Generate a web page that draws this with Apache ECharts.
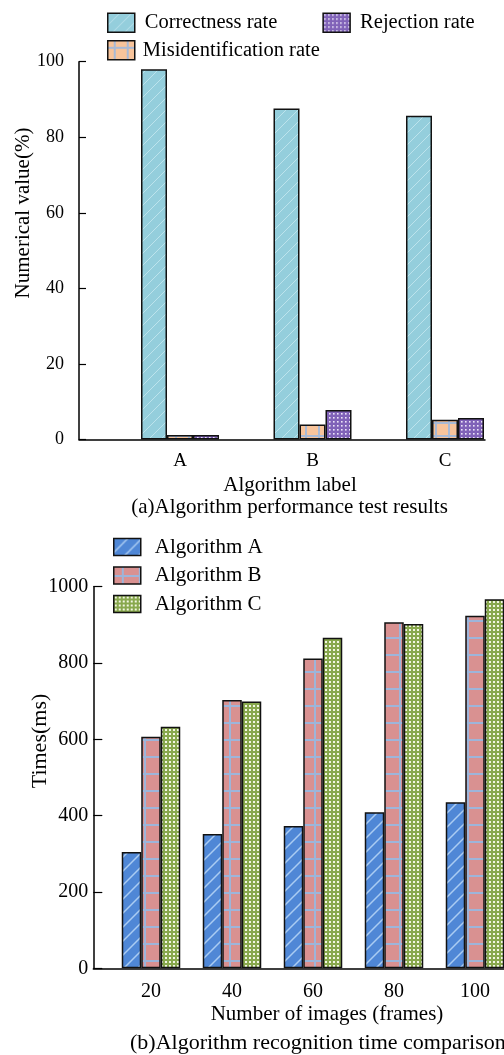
<!DOCTYPE html>
<html>
<head>
<meta charset="utf-8">
<script src="https://cdn.jsdelivr.net/npm/echarts@6/dist/echarts.min.js"></script>
<style>
html,body{margin:0;padding:0;background:#fff;}
#chart{width:504px;height:1055px;}
</style>
</head>
<body>
<div id="chart"></div>
<script>
// ---- data (top chart) ----
const topCategories = ['A', 'B', 'C'];
const correctnessRate = [98.0, 87.6, 85.7];
const misidentificationRate = [1.2, 4.0, 5.2];
const rejectionRate = [1.2, 7.8, 5.7];
const topYTicks = [0, 20, 40, 60, 80, 100];

// ---- data (bottom chart) ----
const frameCounts = [20, 40, 60, 80, 100];
const algorithmA = [305, 352, 373, 409, 435];
const algorithmB = [607, 703, 812, 907, 924];
const algorithmC = [633, 699, 866, 902, 967];
const bottomYTicks = [0, 200, 400, 600, 800, 1000];

const FONT = '"Liberation Serif", "Times New Roman", serif';

function pattern(w, h, bg, draw) {
  const c = document.createElement('canvas');
  c.width = w; c.height = h;
  const g = c.getContext('2d');
  g.fillStyle = bg; g.fillRect(0, 0, w, h);
  draw(g, w, h);
  return { image: c, repeat: 'repeat' };
}
function diag(color, lw) {
  return function (g, w, h) {
    g.strokeStyle = color; g.lineWidth = lw;
    g.beginPath();
    g.moveTo(-1, h + 1); g.lineTo(w + 1, -1);
    g.moveTo(-w - 1, h + 1); g.lineTo(1, -1);
    g.moveTo(w - 1, h + 1); g.lineTo(2 * w + 1, -1);
    g.stroke();
  };
}
function cross(color, lw) {
  return function (g, w, h) {
    g.fillStyle = color;
    g.fillRect(Math.round(w / 2 - lw / 2), 0, lw, h);
    g.fillRect(0, Math.round(h / 2 - lw / 2), w, lw);
  };
}
function dots(color, size) {
  return function (g, w, h) {
    g.fillStyle = color;
    g.fillRect(1, 1, size, size);
  };
}

const pCorrect = pattern(12, 12, '#94CEDC', diag('#BCE3EC', 1));
const pMis = pattern(13, 13, '#F8C49B', cross('#A8BAD6', 2));
const pRej = pattern(4, 4, '#8062B8', dots('#ECE4F8', 1.6));
const pA = pattern(14, 14, '#4F87D6', diag('#AACCF2', 1.5));
const pB = pattern(17, 17, '#D99191', cross('#9DB5DA', 2));
const pC = pattern(4, 4, '#88A84D', dots('#F2F6E2', 2));

const border = { borderColor: '#111', borderWidth: 1.5 };

function pairs(xs, ys) { return ys.map((v, i) => [xs[i], v]); }
const topX = topCategories.map((c, i) => i + 1);

const chart = echarts.init(document.getElementById('chart'), null, { renderer: 'canvas' });

const axisLine = { show: true, lineStyle: { color: '#000', width: 1.5 } };

const option = {
  animation: false,
  backgroundColor: '#fff',
  textStyle: { fontFamily: FONT, color: '#000' },
  grid: [
    { left: 79, right: 19, top: 61.7, bottom: 1055 - 439.5, containLabel: false },
    { left: 93.3, right: 0, top: 586.7, bottom: 1055 - 968.3, containLabel: false }
  ],
  legend: [
    {
      data: ['Correctness rate', 'Rejection rate'],
      left: 102, top: 6.7, orient: 'horizontal',
      itemWidth: 27, itemHeight: 19, itemGap: 45,
      icon: 'rect',
      itemStyle: border,
      textStyle: { fontFamily: FONT, fontSize: 20.5, color: '#000', lineHeight: 22, padding: [0, 0, 0, 5] }
    },
    {
      data: ['Misidentification rate'],
      left: 102, top: 34.3, orient: 'horizontal',
      itemWidth: 27, itemHeight: 19,
      icon: 'rect',
      itemStyle: border,
      textStyle: { fontFamily: FONT, fontSize: 20.5, color: '#000', lineHeight: 22, padding: [0, 0, 0, 3] }
    },
    {
      data: ['Algorithm A', 'Algorithm B', 'Algorithm C'],
      left: 108, top: 531.5, orient: 'vertical',
      itemWidth: 27, itemHeight: 17, itemGap: 7.5,
      icon: 'rect',
      itemStyle: border,
      textStyle: { fontFamily: FONT, fontSize: 21, color: '#000', lineHeight: 20, padding: [0, 0, 0, 9] }
    }
  ],
  xAxis: [
    {
      type: 'value', gridIndex: 0,
      min: 1 - (180 - 79) / 132.5, max: 3 + (485 - 445) / 132.5,
      axisLine: axisLine,
      axisTick: { show: false },
      splitLine: { show: false },
      axisLabel: {
        customValues: topX,
        formatter: v => topCategories[Math.round(v) - 1] || '',
        fontFamily: FONT, fontSize: 19, color: '#000', margin: 12
      }
    },
    {
      type: 'value', gridIndex: 1,
      min: 20 - (151 - 93.3) / 4.05, max: 20 + (504 - 151) / 4.05,
      axisLine: axisLine,
      axisTick: { show: false },
      splitLine: { show: false },
      axisLabel: {
        customValues: frameCounts,
        formatter: v => String(v),
        fontFamily: FONT, fontSize: 20, color: '#000', margin: 13
      }
    }
  ],
  yAxis: [
    {
      type: 'value', gridIndex: 0,
      min: topYTicks[0], max: topYTicks[topYTicks.length - 1], interval: 20,
      axisLine: axisLine,
      axisTick: { show: true, inside: true, length: 7, lineStyle: { color: '#000', width: 1.2 } },
      splitLine: { show: false },
      axisLabel: { fontFamily: FONT, fontSize: 18, color: '#000', margin: 15, formatter: v => String(v) }
    },
    {
      type: 'value', gridIndex: 1,
      min: bottomYTicks[0], max: bottomYTicks[bottomYTicks.length - 1], interval: 200,
      axisLine: axisLine,
      axisTick: { show: true, inside: true, length: 9, lineStyle: { color: '#000', width: 1.2 } },
      splitLine: { show: false },
      axisLabel: { fontFamily: FONT, fontSize: 20, color: '#000', margin: 5, formatter: v => String(v) }
    }
  ],
  series: [
    { name: 'Correctness rate', type: 'bar', xAxisIndex: 0, yAxisIndex: 0, barWidth: 26, barGap: '0%',
      data: pairs(topX, correctnessRate), itemStyle: Object.assign({ color: pCorrect }, border) },
    { name: 'Misidentification rate', type: 'bar', xAxisIndex: 0, yAxisIndex: 0, barWidth: 26, barGap: '0%',
      data: pairs(topX, misidentificationRate), itemStyle: Object.assign({ color: pMis }, border) },
    { name: 'Rejection rate', type: 'bar', xAxisIndex: 0, yAxisIndex: 0, barWidth: 26, barGap: '0%',
      data: pairs(topX, rejectionRate), itemStyle: Object.assign({ color: pRej }, border) },
    { name: 'Algorithm A', type: 'bar', xAxisIndex: 1, yAxisIndex: 1, barWidth: 19.5, barGap: '0%',
      data: pairs(frameCounts, algorithmA), itemStyle: Object.assign({ color: pA }, border) },
    { name: 'Algorithm B', type: 'bar', xAxisIndex: 1, yAxisIndex: 1, barWidth: 19.5, barGap: '0%',
      data: pairs(frameCounts, algorithmB), itemStyle: Object.assign({ color: pB }, border) },
    { name: 'Algorithm C', type: 'bar', xAxisIndex: 1, yAxisIndex: 1, barWidth: 19.5, barGap: '0%',
      data: pairs(frameCounts, algorithmC), itemStyle: Object.assign({ color: pC }, border) }
  ],
  graphic: [
    { type: 'text', x: 23, y: 213, rotation: Math.PI / 2,
      style: { text: 'Numerical value(%)', font: '21px ' + FONT, fill: '#000', align: 'center', verticalAlign: 'middle' } },
    { type: 'text', x: 290, y: 485,
      style: { text: 'Algorithm label', font: '21px ' + FONT, fill: '#000', align: 'center', verticalAlign: 'middle' } },
    { type: 'text', x: 289.5, y: 507,
      style: { text: '(a)Algorithm performance test results', font: '21px ' + FONT, fill: '#000', align: 'center', verticalAlign: 'middle' } },
    { type: 'text', x: 40, y: 741, rotation: Math.PI / 2,
      style: { text: 'Times(ms)', font: '22px ' + FONT, fill: '#000', align: 'center', verticalAlign: 'middle' } },
    { type: 'text', x: 327, y: 1014,
      style: { text: 'Number of images (frames)', font: '21px ' + FONT, fill: '#000', align: 'center', verticalAlign: 'middle' } },
    { type: 'text', x: 130, y: 1043,
      style: { text: '(b)Algorithm recognition time comparison', font: '22px ' + FONT, fill: '#000', align: 'left', verticalAlign: 'middle' } }
  ]
};
chart.setOption(option);
</script>
</body>
</html>
